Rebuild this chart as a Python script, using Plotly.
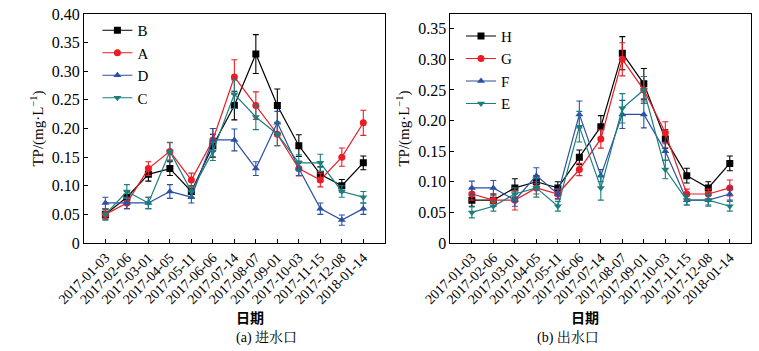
import plotly.graph_objects as go

dates = ["2017-01-03", "2017-02-06", "2017-03-01", "2017-04-05", "2017-05-11", "2017-06-06",
         "2017-07-14", "2017-08-07", "2017-09-01", "2017-10-03", "2017-11-15", "2017-12-08", "2018-01-14"]

# (a) inlet
B = [0.05, 0.08, 0.12, 0.13, 0.09, 0.17, 0.24, 0.33, 0.24, 0.17, 0.12, 0.10, 0.14]
B_err = [0.008, 0.01, 0.012, 0.012, 0.01, 0.02, 0.025, 0.034, 0.029, 0.019, 0.013, 0.011, 0.012]
A = [0.05, 0.07, 0.13, 0.16, 0.11, 0.18, 0.29, 0.24, 0.19, 0.13, 0.11, 0.15, 0.21]
A_err = [0.008, 0.01, 0.012, 0.015, 0.012, 0.02, 0.03, 0.024, 0.02, 0.013, 0.012, 0.016, 0.022]
D = [0.07, 0.07, 0.07, 0.09, 0.08, 0.18, 0.18, 0.13, 0.21, 0.13, 0.06, 0.04, 0.06]
D_err = [0.01, 0.01, 0.01, 0.012, 0.01, 0.02, 0.019, 0.012, 0.02, 0.012, 0.01, 0.009, 0.01]
C = [0.05, 0.09, 0.07, 0.16, 0.09, 0.16, 0.26, 0.22, 0.19, 0.14, 0.14, 0.09, 0.08]
C_err = [0.01, 0.012, 0.01, 0.016, 0.01, 0.016, 0.025, 0.022, 0.02, 0.014, 0.015, 0.01, 0.01]

# (b) outlet
H = [0.07, 0.07, 0.09, 0.10, 0.09, 0.14, 0.19, 0.31, 0.26, 0.17, 0.11, 0.09, 0.13]
H_err = [0.01, 0.01, 0.015, 0.01, 0.01, 0.012, 0.018, 0.027, 0.025, 0.015, 0.012, 0.01, 0.012]
G = [0.08, 0.07, 0.07, 0.09, 0.08, 0.12, 0.17, 0.30, 0.25, 0.18, 0.08, 0.08, 0.09]
G_err = [0.01, 0.01, 0.016, 0.01, 0.008, 0.01, 0.015, 0.027, 0.022, 0.018, 0.008, 0.008, 0.013]
F = [0.09, 0.09, 0.07, 0.11, 0.08, 0.21, 0.11, 0.21, 0.21, 0.15, 0.07, 0.07, 0.08]
F_err = [0.011, 0.012, 0.01, 0.013, 0.008, 0.022, 0.01, 0.023, 0.022, 0.015, 0.008, 0.008, 0.01]
E = [0.05, 0.06, 0.08, 0.09, 0.06, 0.19, 0.09, 0.22, 0.25, 0.12, 0.07, 0.07, 0.06]
E_err = [0.009, 0.008, 0.01, 0.015, 0.008, 0.025, 0.02, 0.024, 0.022, 0.015, 0.008, 0.01, 0.008]

left_ticks = [0, 0.05, 0.10, 0.15, 0.20, 0.25, 0.30, 0.35, 0.40]
left_ticktext = ["0", "0.05", "0.10", "0.15", "0.20", "0.25", "0.30", "0.35", "0.40"]
right_ticks = [0, 0.05, 0.10, 0.15, 0.20, 0.25, 0.30, 0.35]
right_ticktext = ["0", "0.05", "0.10", "0.15", "0.20", "0.25", "0.30", "0.35"]

BLACK = "#000000"
RED = "#ec1c24"
BLUE = "#2b4fa2"
TEAL = "#1b7f7d"

SERIF = "Liberation Serif, Noto Serif CJK SC, Noto Sans CJK SC, serif"
CJK = "Noto Sans CJK SC, sans-serif"

W, Hh = 759, 351
mt, mb = 14, 108

fig = go.Figure()

def add(name, y, err, color, symbol, xa, ya, legend):
    fig.add_trace(go.Scatter(
        x=list(range(len(dates))), y=y, name=name, mode="lines+markers",
        line=dict(color=color, width=1.2),
        marker=dict(color=color, symbol=symbol, size=7),
        error_y=dict(type="data", array=err, visible=True, color=color, thickness=1.1, width=3),
        xaxis=xa, yaxis=ya, legend=legend,
    ))

add("B", B, B_err, BLACK, "square", "x", "y", "legend")
add("A", A, A_err, RED, "circle", "x", "y", "legend")
add("D", D, D_err, BLUE, "triangle-up", "x", "y", "legend")
add("C", C, C_err, TEAL, "triangle-down", "x", "y", "legend")
add("H", H, H_err, BLACK, "square", "x2", "y2", "legend2")
add("G", G, G_err, RED, "circle", "x2", "y2", "legend2")
add("F", F, F_err, BLUE, "triangle-up", "x2", "y2", "legend2")
add("E", E, E_err, TEAL, "triangle-down", "x2", "y2", "legend2")

ld = [59 / W, 371 / W]
rd = [439 / W, 751 / W]

xcommon = dict(
    range=[-1, 13], tickmode="array", tickvals=list(range(len(dates))), ticktext=dates,
    tickangle=-45, ticks="inside", ticklen=4, tickcolor="black",
    showline=True, linecolor="black", linewidth=1, mirror=True, showgrid=False, zeroline=False,
    tickfont=dict(family=SERIF, size=14, color="black"),
)
ycommon = dict(
    ticks="inside", ticklen=4, tickcolor="black", tickmode="array",
    showline=True, linecolor="black", linewidth=1, mirror=True, showgrid=False, zeroline=False,
    tickfont=dict(family=SERIF, size=16, color="black"),
    title=dict(text="TP/(mg·L<sup>−1</sup>)", font=dict(family=SERIF, size=15, color="black"), standoff=4),
)

fig.update_layout(
    width=W, height=Hh, margin=dict(l=0, r=0, t=mt, b=mb),
    paper_bgcolor="white", plot_bgcolor="white",
    xaxis=dict(domain=ld, anchor="y", **xcommon),
    yaxis=dict(domain=[0, 1], anchor="x", range=[0, 0.40], tickvals=left_ticks, ticktext=left_ticktext, **ycommon),
    xaxis2=dict(domain=rd, anchor="y2", **xcommon),
    yaxis2=dict(domain=[0, 1], anchor="x2", range=[0, 0.374], tickvals=right_ticks, ticktext=right_ticktext, **ycommon),
    legend=dict(x=73 / W, y=1.0, xanchor="left", yanchor="top", bgcolor="rgba(0,0,0,0)",
                font=dict(family=SERIF, size=15, color="black"), tracegroupgap=0, itemwidth=30),
    legend2=dict(x=450 / W, y=0.975, xanchor="left", yanchor="top", bgcolor="rgba(0,0,0,0)",
                 font=dict(family=SERIF, size=15, color="black"), tracegroupgap=0, itemwidth=30),
    showlegend=True,
)

for cx, sub in [((59 + 371) / 2 / W, "(a) 进水口"), ((439 + 751) / 2 / W, "(b) 出水口")]:
    fig.add_annotation(text="<b>日期</b>", x=cx, y=-(317 - 243) / (Hh - mt - mb), xref="paper", yref="paper",
                       showarrow=False, font=dict(family=CJK, size=14, color="black"), yanchor="middle")
    fig.add_annotation(text=sub, x=cx, y=-(337 - 243) / (Hh - mt - mb), xref="paper", yref="paper",
                       showarrow=False, font=dict(family=SERIF, size=14, color="black"), yanchor="middle")

fig.write_html("out.html")
